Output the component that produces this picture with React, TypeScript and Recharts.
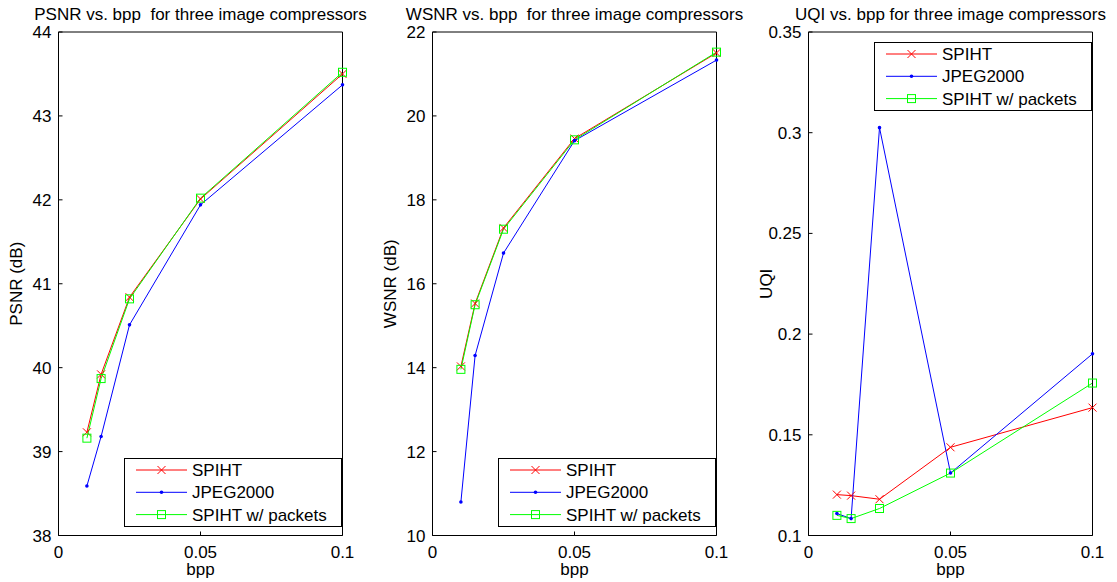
import React from 'react'
import { Legend, Line, LineChart, XAxis, YAxis } from 'recharts'

// bit rates shared by all three panels
const bpp = [0.01, 0.015, 0.025, 0.05, 0.1]

const psnrSpiht = [39.23, 39.92, 40.84, 42.01, 43.5]
const psnrJpeg = [38.59, 39.18, 40.51, 41.94, 43.37]
const psnrPackets = [39.16, 39.87, 40.82, 42.02, 43.52]

const wsnrSpiht = [14.03, 15.53, 17.33, 19.46, 21.5]
const wsnrJpeg = [10.8, 14.29, 16.73, 19.41, 21.33]
const wsnrPackets = [13.96, 15.5, 17.3, 19.43, 21.52]

const uqiSpiht = [0.1203, 0.1198, 0.118, 0.1438, 0.1635]
const uqiJpeg = [0.1109, 0.1084, 0.3025, 0.131, 0.1902]
const uqiPackets = [0.11, 0.1084, 0.1134, 0.131, 0.1757]

const xTicks = [0, 0.05, 0.1]
const psnrTicks = [38, 39, 40, 41, 42, 43, 44]
const wsnrTicks = [10, 12, 14, 16, 18, 20, 22]
const uqiTicks = [0.1, 0.15, 0.2, 0.25, 0.3, 0.35]

const FONT = '"Liberation Sans", Arial, Helvetica, sans-serif'
const FS = 17
const CHART_W = 375
const CHART_H = 582
const PLOT_W = 284
// axes are 1px thick boxes (a zero-sized axis is not drawn at all)
const MARGIN = { top: 31, right: CHART_W - 58.5 - PLOT_W - 1, bottom: CHART_H - 535.5 - 1, left: 57.5 }

type Key = 'spiht' | 'jpeg' | 'packets'
const SERIES: { key: Key; name: string; color: string }[] = [
  { key: 'spiht', name: 'SPIHT', color: '#ff0000' },
  { key: 'jpeg', name: 'JPEG2000', color: '#0000ff' },
  { key: 'packets', name: 'SPIHT w/ packets', color: '#00ff00' },
]

function rows(a: number[], b: number[], c: number[]) {
  return bpp.map((x, i) => ({ bpp: x, spiht: a[i], jpeg: b[i], packets: c[i] }))
}

// marker shapes, placed at the coordinates the library hands in
function Marker({ cx, cy, kind }: { cx?: number; cy?: number; kind: Key }) {
  if (cx == null || cy == null) return null
  if (kind === 'spiht') {
    const s = 4
    return (
      <path
        d={`M${cx - s},${cy - s}L${cx + s},${cy + s}M${cx - s},${cy + s}L${cx + s},${cy - s}`}
        stroke="#ff0000"
        strokeWidth={1}
        fill="none"
      />
    )
  }
  if (kind === 'jpeg') return <circle cx={cx} cy={cy} r={1.8} fill="#0000ff" />
  return <rect x={cx - 4} y={cy - 4} width={8} height={8} stroke="#00ff00" strokeWidth={1} fill="none" />
}

function LegendBox() {
  return (
    <svg width={218} height={69} style={{ display: 'block', overflow: 'visible' }}>
      <rect x={0.5} y={0.5} width={217} height={68} fill="#fff" stroke="#000" strokeWidth={1} />
      {SERIES.map((s, i) => {
        const y = 12 + i * 22.3
        return (
          <g key={s.key}>
            <line x1={12} x2={63} y1={y} y2={y} stroke={s.color} strokeWidth={1} />
            <Marker cx={37.5} cy={y} kind={s.key} />
            <text x={68} y={y} dy="0.35em" fontSize={FS} fontFamily={FONT} fill="#000">
              {s.name}
            </text>
          </g>
        )
      })}
    </svg>
  )
}

function TitleText(props: any) {
  const vb = props.viewBox || {}
  return (
    <text
      x={vb.x + vb.width / 2}
      y={vb.y - 11}
      textAnchor="middle"
      fontSize={FS}
      fontFamily={FONT}
      fill="#000"
      style={{ whiteSpace: 'pre' }}
    >
      {props.text}
    </text>
  )
}

function YLabelText(props: any) {
  const vb = props.viewBox || {}
  const x = vb.x - 36
  const y = vb.y + vb.height / 2
  return (
    <text
      x={x}
      y={y}
      transform={`rotate(-90, ${x}, ${y})`}
      textAnchor="middle"
      fontSize={FS}
      fontFamily={FONT}
      fill="#000"
    >
      {props.text}
    </text>
  )
}

function XLabelText(props: any) {
  const vb = props.viewBox || {}
  return (
    <text x={vb.x + vb.width / 2} y={vb.y + 39} textAnchor="middle" fontSize={FS} fontFamily={FONT} fill="#000">
      {props.text}
    </text>
  )
}

function Panel({
  left,
  title,
  ylabel,
  data,
  yTicks,
  legendTop,
}: {
  left: number
  title: string
  ylabel: string
  data: ReturnType<typeof rows>
  yTicks: number[]
  legendTop: number
}) {
  const domain: [number, number] = [yTicks[0], yTicks[yTicks.length - 1]]
  const tickStyle = { fill: '#000', fontSize: FS, fontFamily: FONT }
  const axisStroke = { stroke: '#000', strokeWidth: 1 }
  return (
    <div style={{ position: 'absolute', left, top: 0 }}>
      <LineChart width={CHART_W} height={CHART_H} data={data} margin={MARGIN}>
        <XAxis
          dataKey="bpp"
          type="number"
          domain={[0, 0.1]}
          ticks={xTicks}
          interval={0}
          height={1}
          tick={tickStyle}
          tickSize={-4}
          tickMargin={14}
          axisLine={axisStroke}
          tickLine={axisStroke}
          label={<XLabelText text="bpp" />}
        />
        <XAxis
          xAxisId="top"
          orientation="top"
          dataKey="bpp"
          type="number"
          domain={[0, 0.1]}
          ticks={xTicks}
          interval={0}
          height={1}
          tick={false}
          tickSize={-4}
          axisLine={axisStroke}
          tickLine={axisStroke}
          label={<TitleText text={title} />}
        />
        <YAxis
          type="number"
          domain={domain}
          ticks={yTicks}
          interval={0}
          width={1}
          tick={tickStyle}
          tickSize={-4}
          tickMargin={11}
          axisLine={axisStroke}
          tickLine={axisStroke}
          label={<YLabelText text={ylabel} />}
        />
        <YAxis
          yAxisId="right"
          orientation="right"
          type="number"
          domain={domain}
          ticks={yTicks}
          interval={0}
          width={1}
          tick={false}
          tickSize={-4}
          axisLine={axisStroke}
          tickLine={axisStroke}
        />
        {SERIES.map((s) => (
          <Line
            key={s.key}
            dataKey={s.key}
            name={s.name}
            stroke={s.color}
            strokeWidth={1}
            type="linear"
            isAnimationActive={false}
            dot={(p: any) => <Marker key={`${s.key}-${p.index}`} cx={p.cx} cy={p.cy} kind={s.key} />}
            activeDot={false}
          />
        ))}
        <Legend
          layout="vertical"
          align="center"
          verticalAlign="middle"
          content={() => <LegendBox />}
          wrapperStyle={{ left: 58.5 + 65.5, top: legendTop, width: 218, height: 69 }}
        />
      </LineChart>
    </div>
  )
}

export default function App() {
  return (
    <div
      style={{
        position: 'absolute',
        left: 0,
        top: 0,
        width: 1117,
        height: 582,
        overflow: 'hidden',
        background: '#fff',
      }}
    >
      <Panel
        left={0}
        title="PSNR vs. bpp  for three image compressors"
        ylabel="PSNR (dB)"
        data={rows(psnrSpiht, psnrJpeg, psnrPackets)}
        yTicks={psnrTicks}
        legendTop={458}
      />
      <Panel
        left={374}
        title="WSNR vs. bpp  for three image compressors"
        ylabel="WSNR (dB)"
        data={rows(wsnrSpiht, wsnrJpeg, wsnrPackets)}
        yTicks={wsnrTicks}
        legendTop={458}
      />
      <Panel
        left={750}
        title="UQI vs. bpp for three image compressors"
        ylabel="UQI"
        data={rows(uqiSpiht, uqiJpeg, uqiPackets)}
        yTicks={uqiTicks}
        legendTop={42}
      />
    </div>
  )
}
